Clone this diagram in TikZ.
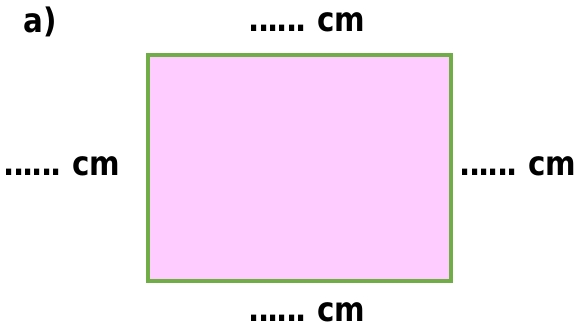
\documentclass[tikz,border=0pt]{standalone}
\usepackage{fontspec}
\setmainfont{DejaVu Sans}
\usetikzlibrary{positioning}
\definecolor{RectPink}{HTML}{FFCCFF}
\definecolor{RectGreen}{HTML}{70AD47}
\newcommand{\tallbox}[1]{\scalebox{1}[1.15]{#1}}
\newcommand{\blankcm}{\tallbox{.\kern-1.4pt.\kern-1.4pt.\kern-1.4pt.\kern-1.4pt.\kern-1.4pt.\kern8pt cm}}

\begin{document}
\begin{tikzpicture}[
  x=0.75pt, y=-0.75pt,
  rectbox/.style={draw=RectGreen, fill=RectPink, line width=2.5pt},
  lbl/.style={font=\fontsize{22}{25}\selectfont\bfseries, inner sep=0pt}
]
\useasboundingbox (0,0) rectangle (576,332);

\draw[rectbox] (148,55) rectangle (451,281);
\coordinate (rect) at (299.5,168);

\node[lbl] (part) at (40,22) {\tallbox{a)}};
\node[lbl] (top) at (307,22) {\blankcm};
\node[lbl] (left) at (62,166) {\blankcm};
\node[lbl] (right) at (518,166) {\blankcm};
\node[lbl] (bottom) at (307,312) {\blankcm};

\end{tikzpicture}
\end{document}
